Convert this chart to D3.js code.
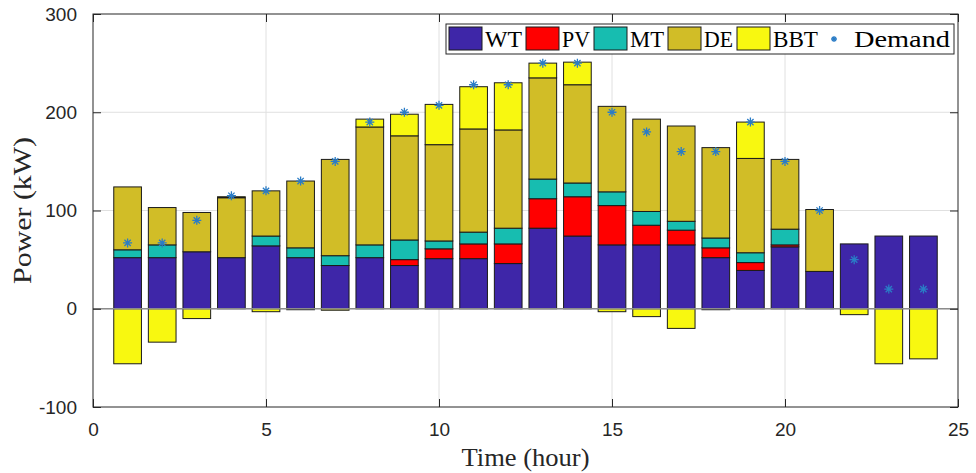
<!DOCTYPE html>
<html>
<head>
<meta charset="utf-8">
<script src="https://cdn.jsdelivr.net/npm/d3@7"></script>
<style>
  body { margin: 0; background: #fff; }
</style>
</head>
<body>
<div id="container"></div>
<script>
let w = 976;
let h = 473;
let margin = {left: 93, right: 18, top: 14, bottom: 66};

// DATA (kW per hour)
let hours  = d3.range(1, 25);
let WT     = [52, 52, 58, 52, 64, 52, 44, 52, 44, 51, 51, 46, 82, 74, 65, 65, 65, 52, 39, 63, 38, 66, 74, 74];
let PV     = [0, 0, 0, 0, 0, 0, 0, 0, 6, 10, 15, 20, 30, 40, 40, 20, 15, 10, 8, 2, 0, 0, 0, 0];
let MT     = [8, 13, 0, 0, 10, 10, 10, 13, 20, 8, 12, 16, 20, 14, 14, 14, 9, 10, 10, 16, 0, 0, 0, 0];
let DE     = [64, 38, 40, 61, 46, 68, 98, 120, 106, 98, 105, 100, 103, 100, 87, 94, 97, 92, 96, 71, 63, 0, 0, 0];
let BBT    = [-56, -34, -10, 1, -3, -1, -1.5, 8, 22, 41, 43, 48, 15, 23, -3, -8, -20, -1, 37, 0, 0, -6, -56, -51];
let demand = [67, 67, 90, 115, 120, 130, 150, 190, 200, 207, 228, 228, 250, 250, 200, 180, 160, 160, 190, 150, 100, 50, 20, 20];
let seriesNames = ["WT", "PV", "MT", "DE", "BBT"];
let seriesColors = ["#3e26a8", "#ff0000", "#17bdb0", "#d1bd27", "#f8f810"];
let xTicks = [0, 5, 10, 15, 20, 25];
let yTicks = [-100, 0, 100, 200, 300];

let rows = hours.map(function(hr, i){
  return {hour: hr, WT: WT[i], PV: PV[i], MT: MT[i], DE: DE[i], BBT: BBT[i], demand: demand[i]};
});

// SVG
let viz = d3.select("#container").append("svg")
    .attr("width", w)
    .attr("height", h)
    .style("font-family", "'Liberation Sans', Arial, sans-serif")
;

// SCALES
let xScale = d3.scaleLinear().domain([0, 25]).range([margin.left, w - margin.right]);
let yScale = d3.scaleLinear().domain([-100, 300]).range([h - margin.bottom, margin.top]);
let unit = xScale(1) - xScale(0);
let barW = unit * 0.8;

// grid
viz.selectAll(".vgrid").data(xTicks.slice(1, -1)).enter()
  .append("line")
    .attr("x1", d => xScale(d)).attr("x2", d => xScale(d))
    .attr("y1", yScale(300)).attr("y2", yScale(-100))
    .attr("stroke", "#e0e0e0").attr("stroke-width", 1)
;
viz.selectAll(".hgrid").data(yTicks.slice(1, -1)).enter()
  .append("line")
    .attr("x1", xScale(0)).attr("x2", xScale(25))
    .attr("y1", d => yScale(d)).attr("y2", d => yScale(d))
    .attr("stroke", "#e0e0e0").attr("stroke-width", 1)
;

// stacked bars (positive and negative stack separately)
let stack = d3.stack().keys(seriesNames).offset(d3.stackOffsetDiverging);
let stacked = stack(rows);

let groups = viz.selectAll(".series").data(stacked).enter()
  .append("g")
    .attr("class", "series")
    .attr("fill", (d, i) => seriesColors[i])
;
groups.selectAll("rect").data(d => d.filter(p => p[1] !== p[0])).enter()
  .append("rect")
    .attr("x", d => xScale(d.data.hour) - barW / 2)
    .attr("width", barW)
    .attr("y", d => yScale(Math.max(d[0], d[1])))
    .attr("height", d => Math.abs(yScale(d[0]) - yScale(d[1])))
    .attr("stroke", "#1a1a1a")
    .attr("stroke-width", 1)
;

// baseline
viz.append("line")
  .attr("x1", xScale(0)).attr("x2", xScale(25))
  .attr("y1", yScale(0)).attr("y2", yScale(0))
  .attr("stroke", "#8c8c8c").attr("stroke-width", 1.5)
;

// demand asterisks
function asterisk(sel, r) {
  sel.append("path")
    .attr("d", `M${-r},0H${r}M0,${-r}V${r}M${-r*0.7},${-r*0.7}L${r*0.7},${r*0.7}M${-r*0.7},${r*0.7}L${r*0.7},${-r*0.7}`)
    .attr("stroke", "#2a7cc6")
    .attr("stroke-width", 1.3)
    .attr("fill", "none");
}
viz.selectAll(".demand").data(rows).enter()
  .append("g")
    .attr("class", "demand")
    .attr("transform", d => `translate(${xScale(d.hour)},${yScale(d.demand)})`)
    .each(function(){ asterisk(d3.select(this), 4.5); })
;

// axes box + ticks
let axisColor = "#262626";
viz.append("rect")
  .attr("x", xScale(0)).attr("y", yScale(300))
  .attr("width", xScale(25) - xScale(0)).attr("height", yScale(-100) - yScale(300))
  .attr("fill", "none").attr("stroke", axisColor).attr("stroke-width", 1)
;
let fmt = d => String(d);
let xAxis = d3.axisBottom(xScale).tickValues(xTicks).tickSize(-8).tickPadding(16).tickFormat(fmt);
let yAxis = d3.axisLeft(yScale).tickValues(yTicks).tickSize(-8).tickPadding(16).tickFormat(fmt);
viz.append("g").attr("transform", `translate(0,${yScale(-100)})`).call(xAxis)
  .call(g => g.select(".domain").remove());
viz.append("g").attr("transform", `translate(0,${yScale(300)})`)
  .call(d3.axisTop(xScale).tickValues(xTicks).tickSize(-8).tickFormat(""))
  .call(g => g.select(".domain").remove());
viz.append("g").attr("transform", `translate(${xScale(0)},0)`).call(yAxis)
  .call(g => g.select(".domain").remove());
viz.append("g").attr("transform", `translate(${xScale(25)},0)`)
  .call(d3.axisRight(yScale).tickValues(yTicks).tickSize(-8).tickFormat(""))
  .call(g => g.select(".domain").remove());
viz.selectAll(".tick line").attr("stroke", axisColor);
viz.selectAll(".tick text")
  .attr("fill", "#262626")
  .style("font-size", "19px")
  .style("font-family", "'Liberation Sans', Arial, sans-serif");

// axis titles
viz.append("text")
  .attr("x", (xScale(0) + xScale(25)) / 2)
  .attr("y", 466)
  .attr("text-anchor", "middle")
  .attr("textLength", 128)
  .attr("lengthAdjust", "spacingAndGlyphs")
  .style("font-family", "'Liberation Serif', serif")
  .style("font-size", "25px")
  .attr("fill", "#262626")
  .text("Time (hour)")
;
viz.append("text")
  .attr("transform", `translate(31,${(yScale(300) + yScale(-100)) / 2}) rotate(-90)`)
  .attr("text-anchor", "middle")
  .attr("textLength", 147)
  .attr("lengthAdjust", "spacingAndGlyphs")
  .style("font-family", "'Liberation Serif', serif")
  .style("font-size", "25px")
  .attr("fill", "#262626")
  .text("Power (kW)")
;

// LEGEND
let legendItems = seriesNames.map((n, i) => ({name: n, color: seriesColors[i]}));
legendItems.push({name: "Demand", color: null});
let legendTextW = [37, 28, 34, 29, 45, 96];
let lg = viz.append("g");
let lx = 449;
let ly = 27;
let legBox = lg.append("rect")
  .attr("y", ly - 3).attr("height", 30)
  .attr("fill", "#fff").attr("stroke", axisColor).attr("stroke-width", 1);
legendItems.forEach(function(it, i){
  if (it.color) {
    lg.append("rect")
      .attr("x", lx).attr("y", ly).attr("width", 33).attr("height", 23)
      .attr("fill", it.color).attr("stroke", "#1a1a1a").attr("stroke-width", 1);
    lx += 36;
  } else {
    let g = lg.append("g").attr("transform", `translate(${lx + 12},${ly + 12})`);
    asterisk(g, 3);
    lx += 32;
  }
  lg.append("text")
    .attr("x", lx).attr("y", ly + 20)
    .attr("textLength", legendTextW[i])
    .attr("lengthAdjust", "spacingAndGlyphs")
    .style("font-family", "'Liberation Serif', serif")
    .style("font-size", "24px")
    .attr("fill", "#000")
    .text(it.name);
  lx += legendTextW[i] + 4;
});
legBox.attr("x", 446).attr("width", lx - 446);
</script>
</body>
</html>
